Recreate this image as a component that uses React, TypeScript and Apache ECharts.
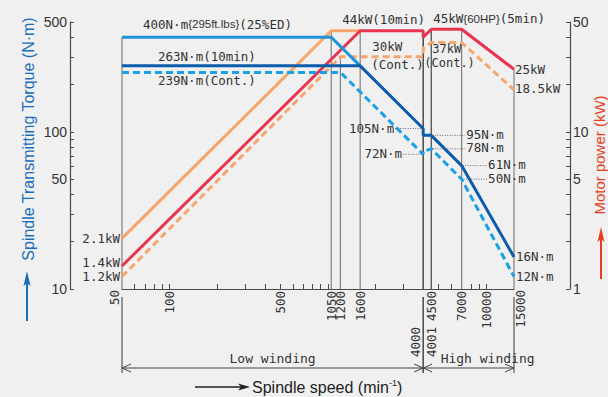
import React, { useEffect, useRef } from 'react';
import * as echarts from 'echarts';

// ---------------- DATA ----------------
// axis ticks / labels
const xTickValues = [60, 70, 80, 90, 100, 200, 300, 400, 500, 600, 700, 800, 900, 1000, 2000, 3000, 5000, 6000, 8000, 9000, 10000];
const xLabelValues = [100, 500, 1050, 1200, 1600, 4500, 7000, 10000];
const torqueTickValues = [10, 20, 30, 40, 50, 60, 70, 80, 90, 100, 200, 300, 400, 500];
const torqueLabelValues = [10, 50, 100, 500];
const powerTickValues = [1, 2, 3, 4, 5, 6, 7, 8, 9, 10, 20, 30, 40, 50];
const powerLabelValues = [1, 5, 10, 50];

// torque curves: [spindle speed min-1, torque N·m]
const torque25ED = [[50, 400], [1050, 400], [1600, 263]];
const torque10min = [[50, 263], [1600, 263], [4000, 105], [4001, 95], [4500, 95], [7000, 61], [15000, 16]];
const torqueCont = [[50, 239], [1200, 239], [4000, 72], [4001, 75], [4500, 78], [7000, 50], [15000, 12]];

// power curves: [spindle speed min-1, power kW]
const power25ED = [[50, 2.1], [1050, 44], [1600, 44]];
const power10min = [[50, 1.4], [1600, 44], [4000, 44], [4001, 40], [4500, 45], [7000, 45], [15000, 25]];
const powerCont = [[50, 1.2], [1200, 30], [4000, 30], [4001, 34], [4500, 37], [7000, 37], [15000, 18.5]];

// vertical guide lines: [speed, top value]
const guidesTorque = [[50, 400]];
const guidesPower = [[1050, 44], [1200, 30], [1600, 44], [4000, 44], [4500, 45], [7000, 45], [15000, 25]];

// annotations
const torqueNotes = [
  { id: 't400', x: 50, y: 400, text: '{m|400N\u00B7m}{295ft.lbs}{m|(25%ED)}' },
  { id: 't263', x: 50, y: 263, text: '263N\u00B7m(10min)' },
  { id: 't239', x: 50, y: 239, text: '239N\u00B7m(Cont.)' },
  { id: 't105', x: 4000, y: 105, text: '105N\u00B7m' },
  { id: 't72', x: 4000, y: 72, text: '72N\u00B7m' },
  { id: 't95', x: 4500, y: 95, text: '95N\u00B7m' },
  { id: 't78', x: 4500, y: 78, text: '78N\u00B7m' },
  { id: 't61', x: 7000, y: 61, text: '61N\u00B7m' },
  { id: 't50', x: 7000, y: 50, text: '50N\u00B7m' },
  { id: 't16', x: 15000, y: 16, text: '16N\u00B7m' },
  { id: 't12', x: 15000, y: 12, text: '12N\u00B7m' },
];
const powerNotes = [
  { id: 'p44', x: 1050, y: 44, text: '44kW(10min)' },
  { id: 'p45', x: 4500, y: 45, text: '{m|45kW}{60HP}{m|(5min)}' },
  { id: 'p30a', x: 1600, y: 30, text: '30kW' },
  { id: 'p30b', x: 1600, y: 30, text: '(Cont.)' },
  { id: 'p37', x: 4500, y: 37, text: '{i|37kW}\n{c|(Cont.)}' },
  { id: 'p25', x: 15000, y: 25, text: '25kW' },
  { id: 'p185', x: 15000, y: 18.5, text: '18.5kW' },
  { id: 'p21', x: 50, y: 2.1, text: '2.1kW' },
  { id: 'p14', x: 50, y: 1.4, text: '1.4kW' },
  { id: 'p12', x: 50, y: 1.2, text: '1.2kW' },
];

// extra axis labels and winding ranges
const extraXLabels = [
  { v: 50, text: '50' },
  { v: 15000, text: '15000' },
  { v: 4000, text: '4000' },
  { v: 4001, text: '4001' },
];
const extensionSpeeds = [50, 4000, 15000];
const windings = [
  { name: 'Low winding', from: 50, to: 4000 },
  { name: 'High winding', from: 4000, to: 15000 },
];

// ---------------- STYLE ----------------
const MONO = '"DejaVu Sans Mono"';
const SANS = '"Liberation Sans"';
const TEXT = '#333333';
const AXIS = '#4a4a4a';
const C_LIGHTBLUE = '#1e94d8';
const C_DARKBLUE = '#0b5dac';
const C_DASHBLUE = '#1aa0e4';
const C_ORANGE = '#f6a66b';
const C_RED = '#e8354f';
const C_TITLE_BLUE = '#1a6dbb';
const C_TITLE_RED = '#e63e20';

type NoteLayout = { dx: number; dy: number; align: 'left' | 'right'; lead?: [number, number]; small?: boolean };
const NOTE_LAYOUT: Record<string, NoteLayout> = {
  t400: { dx: 21, dy: -13, align: 'left', small: true },
  t263: { dx: 36, dy: -9, align: 'left' },
  t239: { dx: 36, dy: 8.5, align: 'left' },
  t105: { dx: -29, dy: 0, align: 'right', lead: [-28, -1] },
  t72: { dx: -21, dy: -1, align: 'right', lead: [-20, -1] },
  t95: { dx: 35, dy: -1, align: 'left', lead: [1, 34] },
  t78: { dx: 35, dy: -1, align: 'left', lead: [1, 34] },
  t61: { dx: 26.5, dy: -1.5, align: 'left', lead: [1, 25.5] },
  t50: { dx: 26.5, dy: -1, align: 'left', lead: [2, 25.5] },
  t16: { dx: 2, dy: 0, align: 'left' },
  t12: { dx: 2, dy: 0, align: 'left' },
  p44: { dx: 11, dy: -11, align: 'left' },
  p45: { dx: 2, dy: -10.5, align: 'left', small: true },
  p30a: { dx: 12, dy: -10, align: 'left' },
  p30b: { dx: 11, dy: 8, align: 'left' },
  p37: { dx: -7, dy: 13.5, align: 'left' },
  p25: { dx: 1, dy: 0, align: 'left' },
  p185: { dx: 1, dy: -1, align: 'left' },
  p21: { dx: -2, dy: 0, align: 'right' },
  p14: { dx: -2, dy: -4, align: 'right' },
  p12: { dx: -2, dy: 0, align: 'right' },
};
const EXTRA_LABEL_LAYOUT: Record<string, { dx: number; top: number }> = {
  '50': { dx: -8, top: 290 },
  '15000': { dx: 6, top: 290 },
  '4000': { dx: -8, top: 327 },
  '4001': { dx: 8, top: 327 },
};
const WINDING_DX: Record<string, number> = { 'Low winding': 0, 'High winding': 19 };

function noteSeries(notes: any[], yAxisIndex: number) {
  return {
    type: 'custom',
    coordinateSystem: 'cartesian2d',
    xAxisIndex: 0,
    yAxisIndex,
    clip: false,
    silent: true,
    z: 20,
    data: notes.map((n) => [n.x, n.y]),
    renderItem: (params: any, api: any) => {
      const n = notes[params.dataIndex];
      const s = NOTE_LAYOUT[n.id];
      const p = api.coord([api.value(0), api.value(1)]);
      const children: any[] = [];
      if (s.lead) {
        children.push({
          type: 'line',
          shape: { x1: p[0] + s.lead[0], y1: p[1], x2: p[0] + s.lead[1], y2: p[1] },
          style: { stroke: '#666', lineWidth: 1, lineDash: [1, 1.5] },
        });
      }
      children.push({
        type: 'text',
        x: p[0] + s.dx,
        y: p[1] + s.dy,
        style: {
          text: n.text,
          align: s.align,
          textAlign: s.align,
          verticalAlign: 'middle',
          textVerticalAlign: 'middle',
          fontFamily: s.small ? SANS : MONO,
          fontSize: s.small ? 11.5 : 12.5,
          fill: TEXT,
          rich: {
            m: { fontFamily: MONO, fontSize: 12.5, fill: TEXT, color: TEXT },
            i: { fontFamily: MONO, fontSize: 12, fill: TEXT, color: TEXT, lineHeight: 14, padding: [0, 0, 0, 8] },
            c: { fontFamily: MONO, fontSize: 12, fill: TEXT, color: TEXT, lineHeight: 14 },
          },
        },
      });
      return { type: 'group', children };
    },
  };
}

function guideSeries(guides: number[][], yAxisIndex: number, yMin: number) {
  return {
    type: 'custom',
    coordinateSystem: 'cartesian2d',
    xAxisIndex: 0,
    yAxisIndex,
    clip: false,
    silent: true,
    z: 1,
    data: guides,
    renderItem: (params: any, api: any) => {
      const x = api.value(0);
      const p0 = api.coord([x, yMin]);
      const p1 = api.coord([x, api.value(1)]);
      const stroke = x === 4000 ? '#1e1e1e' : x === 4500 ? '#444' : '#808080';
      return {
        type: 'line',
        shape: { x1: p0[0], y1: p0[1], x2: p1[0], y2: p1[1] },
        style: { stroke, lineWidth: 1.2 },
      };
    },
  };
}

function buildOption() {
  const lineBase = { type: 'line', symbol: 'none', showSymbol: false, silent: true, z: 5 };
  return {
    animation: false,
    backgroundColor: '#f0f0f0',
    grid: { left: 122, right: 94, top: 22, bottom: 108, containLabel: false },
    xAxis: {
      type: 'log',
      logBase: 10,
      min: 50,
      max: 15000,
      axisLine: { show: true, lineStyle: { color: AXIS, width: 1.2 } },
      axisTick: { show: true, inside: true, length: 5, customValues: xTickValues, lineStyle: { color: AXIS, width: 1 } },
      axisLabel: {
        show: true,
        customValues: xLabelValues,
        rotate: 90,
        margin: 2,
        fontFamily: MONO,
        fontSize: 12.5,
        color: TEXT,
        hideOverlap: false,
        formatter: (v: number) => String(Math.round(v)),
      },
      splitLine: { show: false },
      minorTick: { show: false },
    },
    yAxis: [
      {
        type: 'log',
        logBase: 10,
        min: 10,
        max: 500,
        position: 'left',
        offset: 52,
        axisLine: { show: true, lineStyle: { color: AXIS, width: 1.2 } },
        axisTick: { show: true, inside: true, length: 4, customValues: torqueTickValues, lineStyle: { color: AXIS } },
        axisLabel: {
          show: true,
          customValues: torqueLabelValues,
          margin: 3,
          fontFamily: SANS,
          fontSize: 14,
          color: TEXT,
          formatter: (v: number) => String(Math.round(v)),
        },
        splitLine: { show: false },
      },
      {
        type: 'log',
        logBase: 10,
        min: 1,
        max: 50,
        position: 'right',
        offset: 56,
        axisLine: { show: true, lineStyle: { color: AXIS, width: 1.2 } },
        axisTick: { show: true, inside: true, length: 4, customValues: powerTickValues, lineStyle: { color: AXIS } },
        axisLabel: {
          show: true,
          customValues: powerLabelValues,
          margin: 3,
          fontFamily: SANS,
          fontSize: 14,
          color: TEXT,
          formatter: (v: number) => String(Math.round(v)),
        },
        splitLine: { show: false },
      },
    ],
    graphic: [
      {
        type: 'text',
        x: 28,
        y: 139,
        rotation: Math.PI / 2,
        style: {
          text: 'Spindle Transmitting Torque (N\u00B7m)',
          fill: C_TITLE_BLUE,
          font: '16px "Liberation Sans"',
          align: 'center',
          textAlign: 'center',
          verticalAlign: 'middle',
          textVerticalAlign: 'middle',
        },
      },
      { type: 'line', shape: { x1: 27, y1: 321, x2: 27, y2: 280 }, style: { stroke: C_TITLE_BLUE, lineWidth: 2 } },
      { type: 'polygon', shape: { points: [[27, 271], [23.5, 286], [27, 283], [30.5, 286]] }, style: { fill: C_TITLE_BLUE } },
      {
        type: 'text',
        x: 599.5,
        y: 155,
        rotation: Math.PI / 2,
        style: {
          text: 'Motor power (kW)',
          fill: C_TITLE_RED,
          font: '15px "Liberation Sans"',
          align: 'center',
          textAlign: 'center',
          verticalAlign: 'middle',
          textVerticalAlign: 'middle',
        },
      },
      { type: 'line', shape: { x1: 601, y1: 279, x2: 601, y2: 236 }, style: { stroke: C_TITLE_RED, lineWidth: 2 } },
      { type: 'polygon', shape: { points: [[601, 227], [597.5, 242], [601, 239], [604.5, 242]] }, style: { fill: C_TITLE_RED } },
      { type: 'line', shape: { x1: 195, y1: 387, x2: 242, y2: 387 }, style: { stroke: '#222', lineWidth: 1.5 } },
      { type: 'polygon', shape: { points: [[250, 387], [238, 383.5], [241, 387], [238, 390.5]] }, style: { fill: '#222' } },
      {
        type: 'text',
        x: 252,
        y: 387,
        style: {
          text: '{a|Spindle speed (min}{s|-1}{a|)}',
          align: 'left',
          textAlign: 'left',
          verticalAlign: 'middle',
          textVerticalAlign: 'middle',
          fill: '#222',
          rich: {
            a: { fontFamily: SANS, fontSize: 16, fill: '#222', color: '#222', lineHeight: 18 },
            s: { fontFamily: SANS, fontSize: 9, fill: '#222', color: '#222', verticalAlign: 'top', lineHeight: 11 },
          },
        },
      },
    ],
    series: [
      guideSeries(guidesTorque, 0, 10),
      guideSeries(guidesPower, 1, 1),
      { ...lineBase, yAxisIndex: 1, data: power25ED, lineStyle: { color: C_ORANGE, width: 3 } },
      { ...lineBase, yAxisIndex: 1, data: powerCont, lineStyle: { color: C_ORANGE, width: 3, type: [7, 4] } },
      { ...lineBase, yAxisIndex: 1, data: power10min, lineStyle: { color: C_RED, width: 3 } },
      { ...lineBase, yAxisIndex: 0, data: torque25ED, lineStyle: { color: C_LIGHTBLUE, width: 3 } },
      { ...lineBase, yAxisIndex: 0, data: torqueCont, lineStyle: { color: C_DASHBLUE, width: 3, type: [7, 4] } },
      { ...lineBase, yAxisIndex: 0, data: torque10min, lineStyle: { color: C_DARKBLUE, width: 3 } },
      noteSeries(torqueNotes, 0),
      noteSeries(powerNotes, 1),
      // extra x labels (50, 15000, 4000, 4001)
      {
        type: 'custom',
        coordinateSystem: 'cartesian2d',
        xAxisIndex: 0,
        yAxisIndex: 0,
        clip: false,
        silent: true,
        z: 20,
        data: extraXLabels.map((l) => [l.v, 10]),
        renderItem: (params: any, api: any) => {
          const l = extraXLabels[params.dataIndex];
          const lay = EXTRA_LABEL_LAYOUT[l.text];
          const p = api.coord([api.value(0), api.value(1)]);
          return {
            type: 'text',
            x: p[0] + lay.dx,
            y: lay.top,
            rotation: Math.PI / 2,
            style: {
              text: l.text,
              align: 'right',
              textAlign: 'right',
              verticalAlign: 'middle',
              textVerticalAlign: 'middle',
              fontFamily: MONO,
              fontSize: 12.5,
              fill: TEXT,
            },
          };
        },
      },
      // extension lines below axis
      {
        type: 'custom',
        coordinateSystem: 'cartesian2d',
        xAxisIndex: 0,
        yAxisIndex: 0,
        clip: false,
        silent: true,
        z: 20,
        data: extensionSpeeds.map((v) => [v, 10]),
        renderItem: (params: any, api: any) => {
          const v = api.value(0);
          const p = api.coord([v, api.value(1)]);
          return {
            type: 'line',
            shape: { x1: p[0], y1: p[1] + 8, x2: p[0], y2: p[1] + 84 },
            style: { stroke: v === 4000 ? '#1e1e1e' : '#555', lineWidth: 1.2 },
          };
        },
      },
      // winding ranges
      {
        type: 'custom',
        coordinateSystem: 'cartesian2d',
        xAxisIndex: 0,
        yAxisIndex: 0,
        clip: false,
        silent: true,
        z: 20,
        data: windings.map((w) => [w.from, 10, w.to]),
        renderItem: (params: any, api: any) => {
          const w = windings[params.dataIndex];
          const a = api.coord([api.value(0), api.value(1)]);
          const b = api.coord([api.value(2), api.value(1)]);
          const y = a[1] + 79;
          const st = { stroke: '#444', lineWidth: 1, fill: 'none' };
          return {
            type: 'group',
            children: [
              { type: 'line', shape: { x1: a[0], y1: y, x2: b[0], y2: y }, style: st },
              { type: 'polyline', shape: { points: [[a[0] + 9, y - 4], [a[0], y], [a[0] + 9, y + 4]] }, style: st },
              { type: 'polyline', shape: { points: [[b[0] - 9, y - 4], [b[0], y], [b[0] - 9, y + 4]] }, style: st },
              {
                type: 'text',
                x: (a[0] + b[0]) / 2 + WINDING_DX[w.name],
                y: y - 10,
                style: {
                  text: w.name,
                  align: 'center',
                  textAlign: 'center',
                  verticalAlign: 'middle',
                  textVerticalAlign: 'middle',
                  fontFamily: MONO,
                  fontSize: 13,
                  fill: TEXT,
                },
              },
            ],
          };
        },
      },
    ],
  };
}

export default function App() {
  const ref = useRef<HTMLDivElement>(null);
  useEffect(() => {
    document.body.style.margin = '0';
    const chart = echarts.init(ref.current as HTMLDivElement, null, { renderer: 'svg' });
    chart.setOption(buildOption() as any);
    return () => chart.dispose();
  }, []);
  return <div ref={ref} style={{ width: 608, height: 397 }} />;
}
